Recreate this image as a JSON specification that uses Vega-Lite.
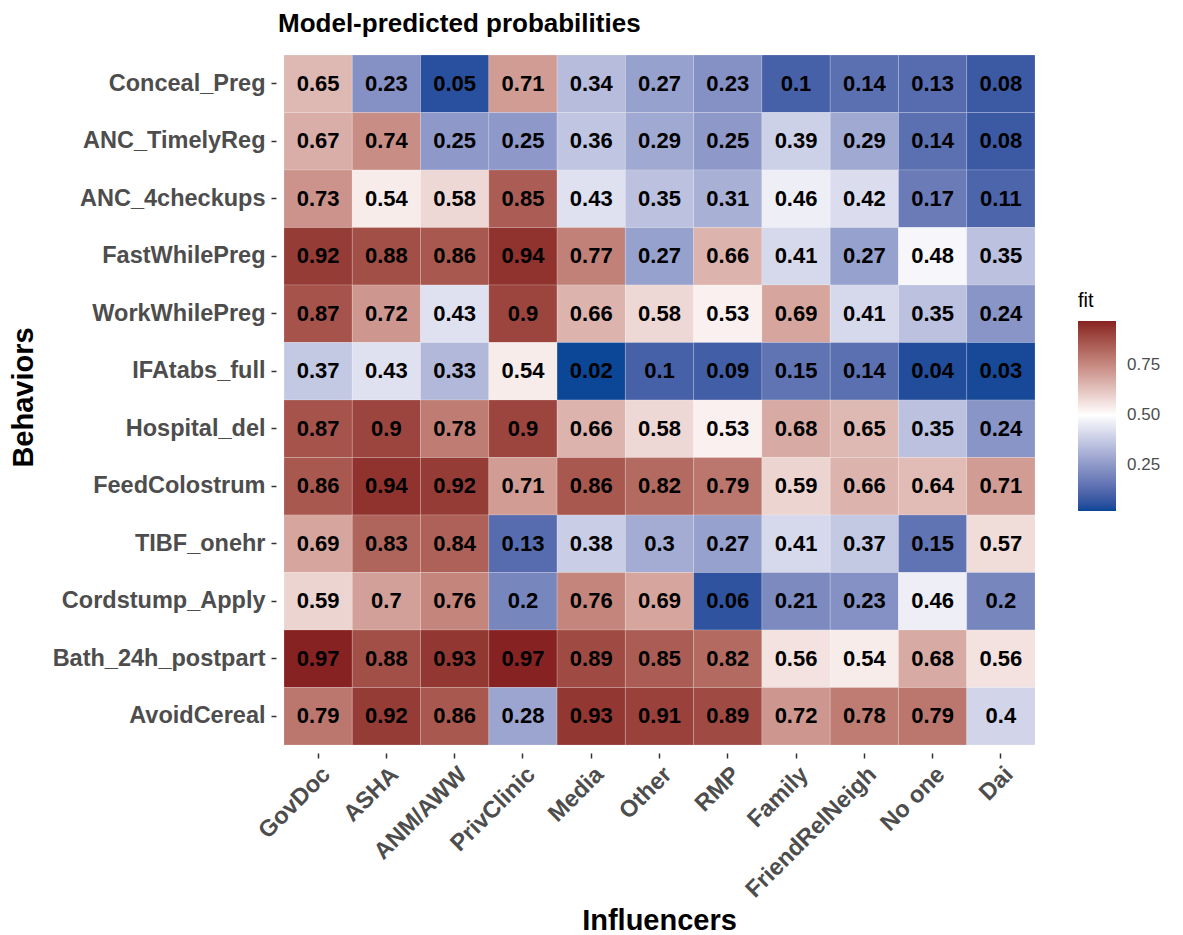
{
  "$schema": "https://vega.github.io/schema/vega-lite/v6.json",
  "autosize": {"type": "none"},
  "width": 751,
  "height": 690,
  "padding": {"left": 284, "top": 55, "right": 148, "bottom": 190},
  "background": "white",
  "config": {
    "view": {"stroke": null},
    "font": "Liberation Sans"
  },
  "title": {
    "text": "Model-predicted probabilities",
    "anchor": "start",
    "frame": "group",
    "dx": -6,
    "offset": 18,
    "fontSize": 26,
    "fontWeight": "bold",
    "color": "black",
    "font": "Liberation Sans"
  },
  "data": {
    "values": [
      {"Behavior": "Conceal_Preg", "Influencer": "GovDoc", "fit": 0.65},
      {"Behavior": "Conceal_Preg", "Influencer": "ASHA", "fit": 0.23},
      {"Behavior": "Conceal_Preg", "Influencer": "ANM/AWW", "fit": 0.05},
      {"Behavior": "Conceal_Preg", "Influencer": "PrivClinic", "fit": 0.71},
      {"Behavior": "Conceal_Preg", "Influencer": "Media", "fit": 0.34},
      {"Behavior": "Conceal_Preg", "Influencer": "Other", "fit": 0.27},
      {"Behavior": "Conceal_Preg", "Influencer": "RMP", "fit": 0.23},
      {"Behavior": "Conceal_Preg", "Influencer": "Family", "fit": 0.1},
      {"Behavior": "Conceal_Preg", "Influencer": "FriendRelNeigh", "fit": 0.14},
      {"Behavior": "Conceal_Preg", "Influencer": "No one", "fit": 0.13},
      {"Behavior": "Conceal_Preg", "Influencer": "Dai", "fit": 0.08},
      {"Behavior": "ANC_TimelyReg", "Influencer": "GovDoc", "fit": 0.67},
      {"Behavior": "ANC_TimelyReg", "Influencer": "ASHA", "fit": 0.74},
      {"Behavior": "ANC_TimelyReg", "Influencer": "ANM/AWW", "fit": 0.25},
      {"Behavior": "ANC_TimelyReg", "Influencer": "PrivClinic", "fit": 0.25},
      {"Behavior": "ANC_TimelyReg", "Influencer": "Media", "fit": 0.36},
      {"Behavior": "ANC_TimelyReg", "Influencer": "Other", "fit": 0.29},
      {"Behavior": "ANC_TimelyReg", "Influencer": "RMP", "fit": 0.25},
      {"Behavior": "ANC_TimelyReg", "Influencer": "Family", "fit": 0.39},
      {"Behavior": "ANC_TimelyReg", "Influencer": "FriendRelNeigh", "fit": 0.29},
      {"Behavior": "ANC_TimelyReg", "Influencer": "No one", "fit": 0.14},
      {"Behavior": "ANC_TimelyReg", "Influencer": "Dai", "fit": 0.08},
      {"Behavior": "ANC_4checkups", "Influencer": "GovDoc", "fit": 0.73},
      {"Behavior": "ANC_4checkups", "Influencer": "ASHA", "fit": 0.54},
      {"Behavior": "ANC_4checkups", "Influencer": "ANM/AWW", "fit": 0.58},
      {"Behavior": "ANC_4checkups", "Influencer": "PrivClinic", "fit": 0.85},
      {"Behavior": "ANC_4checkups", "Influencer": "Media", "fit": 0.43},
      {"Behavior": "ANC_4checkups", "Influencer": "Other", "fit": 0.35},
      {"Behavior": "ANC_4checkups", "Influencer": "RMP", "fit": 0.31},
      {"Behavior": "ANC_4checkups", "Influencer": "Family", "fit": 0.46},
      {"Behavior": "ANC_4checkups", "Influencer": "FriendRelNeigh", "fit": 0.42},
      {"Behavior": "ANC_4checkups", "Influencer": "No one", "fit": 0.17},
      {"Behavior": "ANC_4checkups", "Influencer": "Dai", "fit": 0.11},
      {"Behavior": "FastWhilePreg", "Influencer": "GovDoc", "fit": 0.92},
      {"Behavior": "FastWhilePreg", "Influencer": "ASHA", "fit": 0.88},
      {"Behavior": "FastWhilePreg", "Influencer": "ANM/AWW", "fit": 0.86},
      {"Behavior": "FastWhilePreg", "Influencer": "PrivClinic", "fit": 0.94},
      {"Behavior": "FastWhilePreg", "Influencer": "Media", "fit": 0.77},
      {"Behavior": "FastWhilePreg", "Influencer": "Other", "fit": 0.27},
      {"Behavior": "FastWhilePreg", "Influencer": "RMP", "fit": 0.66},
      {"Behavior": "FastWhilePreg", "Influencer": "Family", "fit": 0.41},
      {"Behavior": "FastWhilePreg", "Influencer": "FriendRelNeigh", "fit": 0.27},
      {"Behavior": "FastWhilePreg", "Influencer": "No one", "fit": 0.48},
      {"Behavior": "FastWhilePreg", "Influencer": "Dai", "fit": 0.35},
      {"Behavior": "WorkWhilePreg", "Influencer": "GovDoc", "fit": 0.87},
      {"Behavior": "WorkWhilePreg", "Influencer": "ASHA", "fit": 0.72},
      {"Behavior": "WorkWhilePreg", "Influencer": "ANM/AWW", "fit": 0.43},
      {"Behavior": "WorkWhilePreg", "Influencer": "PrivClinic", "fit": 0.9},
      {"Behavior": "WorkWhilePreg", "Influencer": "Media", "fit": 0.66},
      {"Behavior": "WorkWhilePreg", "Influencer": "Other", "fit": 0.58},
      {"Behavior": "WorkWhilePreg", "Influencer": "RMP", "fit": 0.53},
      {"Behavior": "WorkWhilePreg", "Influencer": "Family", "fit": 0.69},
      {"Behavior": "WorkWhilePreg", "Influencer": "FriendRelNeigh", "fit": 0.41},
      {"Behavior": "WorkWhilePreg", "Influencer": "No one", "fit": 0.35},
      {"Behavior": "WorkWhilePreg", "Influencer": "Dai", "fit": 0.24},
      {"Behavior": "IFAtabs_full", "Influencer": "GovDoc", "fit": 0.37},
      {"Behavior": "IFAtabs_full", "Influencer": "ASHA", "fit": 0.43},
      {"Behavior": "IFAtabs_full", "Influencer": "ANM/AWW", "fit": 0.33},
      {"Behavior": "IFAtabs_full", "Influencer": "PrivClinic", "fit": 0.54},
      {"Behavior": "IFAtabs_full", "Influencer": "Media", "fit": 0.02},
      {"Behavior": "IFAtabs_full", "Influencer": "Other", "fit": 0.1},
      {"Behavior": "IFAtabs_full", "Influencer": "RMP", "fit": 0.09},
      {"Behavior": "IFAtabs_full", "Influencer": "Family", "fit": 0.15},
      {"Behavior": "IFAtabs_full", "Influencer": "FriendRelNeigh", "fit": 0.14},
      {"Behavior": "IFAtabs_full", "Influencer": "No one", "fit": 0.04},
      {"Behavior": "IFAtabs_full", "Influencer": "Dai", "fit": 0.03},
      {"Behavior": "Hospital_del", "Influencer": "GovDoc", "fit": 0.87},
      {"Behavior": "Hospital_del", "Influencer": "ASHA", "fit": 0.9},
      {"Behavior": "Hospital_del", "Influencer": "ANM/AWW", "fit": 0.78},
      {"Behavior": "Hospital_del", "Influencer": "PrivClinic", "fit": 0.9},
      {"Behavior": "Hospital_del", "Influencer": "Media", "fit": 0.66},
      {"Behavior": "Hospital_del", "Influencer": "Other", "fit": 0.58},
      {"Behavior": "Hospital_del", "Influencer": "RMP", "fit": 0.53},
      {"Behavior": "Hospital_del", "Influencer": "Family", "fit": 0.68},
      {"Behavior": "Hospital_del", "Influencer": "FriendRelNeigh", "fit": 0.65},
      {"Behavior": "Hospital_del", "Influencer": "No one", "fit": 0.35},
      {"Behavior": "Hospital_del", "Influencer": "Dai", "fit": 0.24},
      {"Behavior": "FeedColostrum", "Influencer": "GovDoc", "fit": 0.86},
      {"Behavior": "FeedColostrum", "Influencer": "ASHA", "fit": 0.94},
      {"Behavior": "FeedColostrum", "Influencer": "ANM/AWW", "fit": 0.92},
      {"Behavior": "FeedColostrum", "Influencer": "PrivClinic", "fit": 0.71},
      {"Behavior": "FeedColostrum", "Influencer": "Media", "fit": 0.86},
      {"Behavior": "FeedColostrum", "Influencer": "Other", "fit": 0.82},
      {"Behavior": "FeedColostrum", "Influencer": "RMP", "fit": 0.79},
      {"Behavior": "FeedColostrum", "Influencer": "Family", "fit": 0.59},
      {"Behavior": "FeedColostrum", "Influencer": "FriendRelNeigh", "fit": 0.66},
      {"Behavior": "FeedColostrum", "Influencer": "No one", "fit": 0.64},
      {"Behavior": "FeedColostrum", "Influencer": "Dai", "fit": 0.71},
      {"Behavior": "TIBF_onehr", "Influencer": "GovDoc", "fit": 0.69},
      {"Behavior": "TIBF_onehr", "Influencer": "ASHA", "fit": 0.83},
      {"Behavior": "TIBF_onehr", "Influencer": "ANM/AWW", "fit": 0.84},
      {"Behavior": "TIBF_onehr", "Influencer": "PrivClinic", "fit": 0.13},
      {"Behavior": "TIBF_onehr", "Influencer": "Media", "fit": 0.38},
      {"Behavior": "TIBF_onehr", "Influencer": "Other", "fit": 0.3},
      {"Behavior": "TIBF_onehr", "Influencer": "RMP", "fit": 0.27},
      {"Behavior": "TIBF_onehr", "Influencer": "Family", "fit": 0.41},
      {"Behavior": "TIBF_onehr", "Influencer": "FriendRelNeigh", "fit": 0.37},
      {"Behavior": "TIBF_onehr", "Influencer": "No one", "fit": 0.15},
      {"Behavior": "TIBF_onehr", "Influencer": "Dai", "fit": 0.57},
      {"Behavior": "Cordstump_Apply", "Influencer": "GovDoc", "fit": 0.59},
      {"Behavior": "Cordstump_Apply", "Influencer": "ASHA", "fit": 0.7},
      {"Behavior": "Cordstump_Apply", "Influencer": "ANM/AWW", "fit": 0.76},
      {"Behavior": "Cordstump_Apply", "Influencer": "PrivClinic", "fit": 0.2},
      {"Behavior": "Cordstump_Apply", "Influencer": "Media", "fit": 0.76},
      {"Behavior": "Cordstump_Apply", "Influencer": "Other", "fit": 0.69},
      {"Behavior": "Cordstump_Apply", "Influencer": "RMP", "fit": 0.06},
      {"Behavior": "Cordstump_Apply", "Influencer": "Family", "fit": 0.21},
      {"Behavior": "Cordstump_Apply", "Influencer": "FriendRelNeigh", "fit": 0.23},
      {"Behavior": "Cordstump_Apply", "Influencer": "No one", "fit": 0.46},
      {"Behavior": "Cordstump_Apply", "Influencer": "Dai", "fit": 0.2},
      {"Behavior": "Bath_24h_postpart", "Influencer": "GovDoc", "fit": 0.97},
      {"Behavior": "Bath_24h_postpart", "Influencer": "ASHA", "fit": 0.88},
      {"Behavior": "Bath_24h_postpart", "Influencer": "ANM/AWW", "fit": 0.93},
      {"Behavior": "Bath_24h_postpart", "Influencer": "PrivClinic", "fit": 0.97},
      {"Behavior": "Bath_24h_postpart", "Influencer": "Media", "fit": 0.89},
      {"Behavior": "Bath_24h_postpart", "Influencer": "Other", "fit": 0.85},
      {"Behavior": "Bath_24h_postpart", "Influencer": "RMP", "fit": 0.82},
      {"Behavior": "Bath_24h_postpart", "Influencer": "Family", "fit": 0.56},
      {"Behavior": "Bath_24h_postpart", "Influencer": "FriendRelNeigh", "fit": 0.54},
      {"Behavior": "Bath_24h_postpart", "Influencer": "No one", "fit": 0.68},
      {"Behavior": "Bath_24h_postpart", "Influencer": "Dai", "fit": 0.56},
      {"Behavior": "AvoidCereal", "Influencer": "GovDoc", "fit": 0.79},
      {"Behavior": "AvoidCereal", "Influencer": "ASHA", "fit": 0.92},
      {"Behavior": "AvoidCereal", "Influencer": "ANM/AWW", "fit": 0.86},
      {"Behavior": "AvoidCereal", "Influencer": "PrivClinic", "fit": 0.28},
      {"Behavior": "AvoidCereal", "Influencer": "Media", "fit": 0.93},
      {"Behavior": "AvoidCereal", "Influencer": "Other", "fit": 0.91},
      {"Behavior": "AvoidCereal", "Influencer": "RMP", "fit": 0.89},
      {"Behavior": "AvoidCereal", "Influencer": "Family", "fit": 0.72},
      {"Behavior": "AvoidCereal", "Influencer": "FriendRelNeigh", "fit": 0.78},
      {"Behavior": "AvoidCereal", "Influencer": "No one", "fit": 0.79},
      {"Behavior": "AvoidCereal", "Influencer": "Dai", "fit": 0.4}
    ]
  },
  "encoding": {
    "x": {
      "field": "Influencer",
      "type": "nominal",
      "sort": ["GovDoc", "ASHA", "ANM/AWW", "PrivClinic", "Media", "Other", "RMP", "Family", "FriendRelNeigh", "No one", "Dai"],
      "scale": {"paddingInner": 0, "paddingOuter": 0},
      "axis": {
        "title": "Influencers",
        "titleFontSize": 29,
        "titleFontWeight": "bold",
        "titleColor": "black",
        "titleX": 375,
        "titleY": 176,
        "titleAlign": "center",
        "titleBaseline": "alphabetic",
        "labelAngle": -45,
        "labelAlign": "right",
        "labelBaseline": "top",
        "labelFontSize": 23.5,
        "labelFontWeight": "bold",
        "labelColor": "#4d4d4d",
        "labelPadding": 4,
        "labelLimit": 0,
        "offset": 8,
        "tickColor": "#333333",
        "tickWidth": 1.5,
        "tickSize": 5,
        "domain": false
      }
    },
    "y": {
      "field": "Behavior",
      "type": "nominal",
      "sort": ["Conceal_Preg", "ANC_TimelyReg", "ANC_4checkups", "FastWhilePreg", "WorkWhilePreg", "IFAtabs_full", "Hospital_del", "FeedColostrum", "TIBF_onehr", "Cordstump_Apply", "Bath_24h_postpart", "AvoidCereal"],
      "scale": {"paddingInner": 0, "paddingOuter": 0},
      "axis": {
        "title": "Behaviors",
        "titleFontSize": 29,
        "titleFontWeight": "bold",
        "titleColor": "black",
        "titleX": -244,
        "titleY": 342,
        "titleAngle": -90,
        "titleAlign": "center",
        "titleBaseline": "alphabetic",
        "labelFontSize": 23.5,
        "labelFontWeight": "bold",
        "labelColor": "#4d4d4d",
        "labelPadding": 6,
        "labelLimit": 0,
        "offset": 8,
        "tickColor": "#333333",
        "tickWidth": 1.5,
        "tickSize": 5,
        "domain": false
      }
    }
  },
  "layer": [
    {
      "mark": {"type": "rect", "stroke": "white", "strokeWidth": 0.5, "strokeOpacity": 0.35},
      "encoding": {
        "color": {
          "field": "fit",
          "type": "quantitative",
          "scale": {
            "domain": [0.02, 0.5, 0.97],
            "range": ["#0b4697", "#ffffff", "#872222"],
            "interpolate": "lab"
          },
          "legend": {
            "orient": "none",
            "legendX": 794,
            "legendY": 236,
            "title": "fit",
            "titleFontSize": 20,
            "titleFontWeight": "normal",
            "titleColor": "black",
            "titlePadding": 10,
            "gradientLength": 190,
            "gradientThickness": 38,
            "values": [0.25, 0.5, 0.75],
            "format": ".2f",
            "labelFontSize": 17,
            "labelColor": "#4d4d4d",
            "labelOffset": 11
          }
        }
      }
    },
    {
      "mark": {"type": "text", "fontSize": 22, "fontWeight": "bold", "color": "black"},
      "encoding": {
        "text": {"field": "fit", "type": "quantitative"}
      }
    }
  ]
}
